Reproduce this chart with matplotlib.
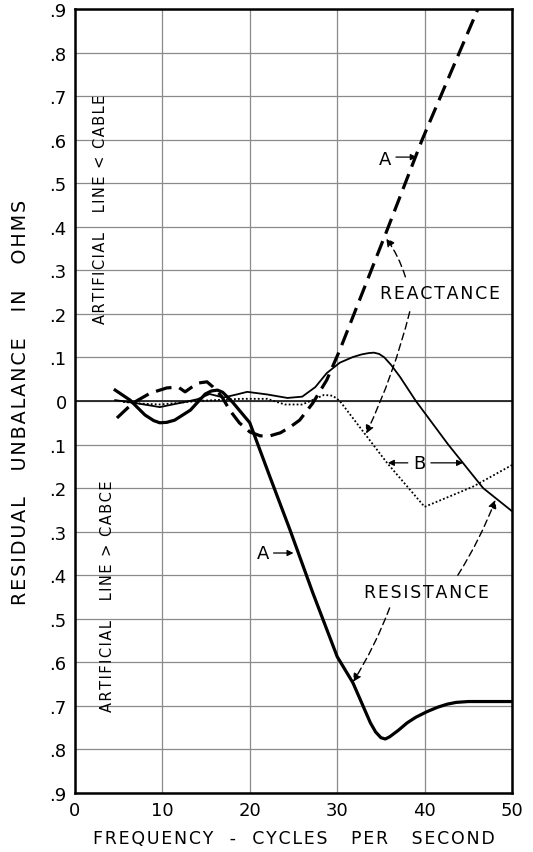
import matplotlib
matplotlib.use('Agg')
import matplotlib.pyplot as plt
import numpy as np

# curve A, reactance (heavy dashed)
xa_react = [4.8, 6.6, 8.6, 10.5, 11.8, 12.6, 14.0, 15.1, 15.8, 16.8, 17.7, 18.8, 20.0, 21.2, 22.3, 23.5, 24.6, 25.7, 27.2, 28.8, 30.3, 35.7, 39.7, 46.1]
ya_react = [-0.039, -0.005, 0.018, 0.030, 0.032, 0.021, 0.041, 0.044, 0.032, 0.010, -0.021, -0.050, -0.071, -0.080, -0.080, -0.073, -0.060, -0.044, -0.005, 0.048, 0.117, 0.392, 0.599, 0.90]

# curve A, resistance (heavy solid)
xa_res = [4.6, 6.3, 8.0, 9.0, 9.7, 10.5, 11.4, 13.2, 14.9, 15.6, 16.3, 16.9, 18.0, 20.0, 22.3, 24.6, 27.2, 30.0, 31.8, 33.8, 34.4, 35.0, 35.5, 36.0, 37.0, 38.0, 39.0, 40.3, 41.5, 42.6, 43.6, 45.0, 50.0]
ya_res = [0.025, 0.002, -0.032, -0.045, -0.050, -0.049, -0.044, -0.021, 0.016, 0.023, 0.025, 0.020, -0.002, -0.050, -0.174, -0.296, -0.440, -0.587, -0.647, -0.739, -0.760, -0.773, -0.776, -0.771, -0.756, -0.739, -0.726, -0.713, -0.703, -0.696, -0.692, -0.690, -0.690]

# curve B, resistance (thin solid)
xb_res = [4.6, 7.0, 9.7, 12.4, 14.0, 15.4, 17.0, 18.5, 19.7, 22.0, 24.3, 26.0, 27.5, 28.8, 30.3, 31.8, 32.8, 33.6, 34.2, 34.8, 35.4, 36.2, 37.2, 39.0, 42.7, 46.7, 50.0]
yb_res = [0.002, -0.005, -0.014, -0.003, 0.004, 0.016, 0.008, 0.015, 0.021, 0.015, 0.007, 0.010, 0.032, 0.064, 0.088, 0.101, 0.107, 0.110, 0.111, 0.108, 0.100, 0.082, 0.055, 0.000, -0.100, -0.200, -0.253]

# curve B, reactance (dotted)
xb_react = [5.5, 7.5, 9.7, 12.0, 14.0, 16.0, 19.0, 22.0, 24.0, 26.0, 27.5, 28.5, 29.5, 30.3, 33.0, 35.7, 40.0, 45.5, 50.0]
yb_react = [-0.002, -0.006, -0.008, -0.004, 0.000, 0.002, 0.005, 0.005, -0.008, -0.008, 0.005, 0.014, 0.012, 0.000, -0.071, -0.142, -0.243, -0.197, -0.147]

x_ticks = [0, 10, 20, 30, 40, 50]
y_ticks = [-0.9, -0.8, -0.7, -0.6, -0.5, -0.4, -0.3, -0.2, -0.1, 0, 0.1, 0.2, 0.3, 0.4, 0.5, 0.6, 0.7, 0.8, 0.9]
y_ticklabels = ['.9', '.8', '.7', '.6', '.5', '.4', '.3', '.2', '.1', '0', '.1', '.2', '.3', '.4', '.5', '.6', '.7', '.8', '.9']


def spaced(s, gap='\u200a'):
    # widen letter spacing like the old lettering guide
    return gap.join(s)


fig = plt.figure(figsize=(5.33, 8.53), dpi=100)
ax = fig.add_axes([75 / 533, 1 - 794 / 853, 437 / 533, 784 / 853])

ax.set_xlim(0, 50)
ax.set_ylim(-0.9, 0.9)
ax.set_xticks(x_ticks)
ax.set_yticks(y_ticks)
ax.set_yticklabels(y_ticklabels)
ax.tick_params(length=0, labelsize=13, pad=6)
ax.grid(True, color='#8a8a8a', linewidth=0.9)
ax.axhline(0, color='#222222', linewidth=1.3)
for s in ax.spines.values():
    s.set_linewidth(1.8)

ax.plot(xa_react, ya_react, color='k', lw=2.3, dashes=(5, 2.5))
ax.plot(xa_res, ya_res, color='k', lw=2.3)
ax.plot(xb_res, yb_res, color='k', lw=1.3)
ax.plot(xb_react, yb_react, color='k', lw=1.3, dashes=(1, 1.2))

ax.set_xlabel(spaced('FREQUENCY  -  CYCLES   PER   SECOND'), fontsize=12.5, labelpad=7)
ax.set_ylabel(spaced('RESIDUAL   UNBALANCE   IN   OHMS'), fontsize=13.8, labelpad=14)

ax.text(2.9, 0.443, spaced('ARTIFICIAL   LINE < CABLE'), rotation=90, ha='center', va='center', fontsize=10.5)
ax.text(3.7, -0.447, spaced('ARTIFICIAL   LINE > CABCE'), rotation=90, ha='center', va='center', fontsize=10.5)

arr = dict(arrowstyle='-|>', color='k', lw=0.9, mutation_scale=9, shrinkA=2, shrinkB=0)
dash_arr = dict(arrowstyle='-|>', color='k', lw=1.0, mutation_scale=12, linestyle=(0, (5, 3)), shrinkA=0, shrinkB=0)

# labels A
ax.text(35.5, 0.555, 'A', ha='center', va='center', fontsize=13)
ax.annotate('', xy=(39.1, 0.56), xytext=(36.4, 0.56), arrowprops=arr)
ax.text(21.5, -0.349, 'A', ha='center', va='center', fontsize=13)
ax.annotate('', xy=(25.0, -0.349), xytext=(22.4, -0.349), arrowprops=arr)

# label B
ax.text(39.4, -0.142, 'B', ha='center', va='center', fontsize=13)
ax.annotate('', xy=(35.8, -0.142), xytext=(38.4, -0.142), arrowprops=arr)
ax.annotate('', xy=(44.4, -0.142), xytext=(40.4, -0.142), arrowprops=arr)

# reactance
ax.text(41.8, 0.248, spaced('REACTANCE'), ha='center', va='center', fontsize=12.5)
ax.annotate('', xy=(35.6, 0.374), xytext=(37.8, 0.285), arrowprops=dict(dash_arr, connectionstyle='arc3,rad=0.08'))
ax.annotate('', xy=(33.3, -0.075), xytext=(38.3, 0.205), arrowprops=dict(dash_arr, connectionstyle='arc3,rad=-0.05'))

# resistance
ax.text(40.2, -0.438, spaced('RESISTANCE'), ha='center', va='center', fontsize=12.5)
ax.annotate('', xy=(48.1, -0.227), xytext=(43.8, -0.40), arrowprops=dict(dash_arr, connectionstyle='arc3,rad=0.05'))
ax.annotate('', xy=(31.8, -0.645), xytext=(36.0, -0.475), arrowprops=dict(dash_arr, connectionstyle='arc3,rad=-0.05'))

fig.savefig('out.png', dpi=100)
